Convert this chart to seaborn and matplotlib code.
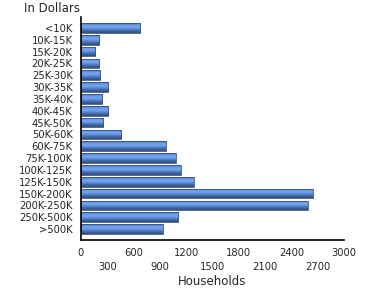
import numpy as np
import pandas as pd
import matplotlib
matplotlib.use("Agg")
import matplotlib.pyplot as plt
import seaborn as sns
from matplotlib.colors import LinearSegmentedColormap
from matplotlib.ticker import MultipleLocator, FixedLocator

categories = ["<10K", "10K-15K", "15K-20K", "20K-25K", "25K-30K", "30K-35K",
              "35K-40K", "40K-45K", "45K-50K", "50K-60K", "60K-75K", "75K-100K",
              "100K-125K", "125K-150K", "150K-200K", "200K-250K", "250K-500K", ">500K"]
households = [678, 206, 164, 210, 222, 313, 244, 313, 256, 461, 964, 1078,
              1135, 1284, 2642, 2585, 1112, 930]
x_title = "Households"
y_title = "In Dollars"

df = pd.DataFrame({"Income": categories, "Households": households})

sns.set_style("white")
plt.rcParams["font.family"] = ["DejaVu Sans"]

fig = plt.figure(figsize=(3.7, 3.0), dpi=100)
ax = fig.add_axes([81/370, 1 - 240/300, (344-81)/370, (240-17)/300])

sns.barplot(data=df, x="Households", y="Income", orient="h", ax=ax,
            color="#5b8ad8", width=0.82, edgecolor="#3e5478", linewidth=0.6)

cmap = LinearSegmentedColormap.from_list(
    "bar", ["#4b6b9c", "#6a9ce8", "#72a6f5", "#5a88d2", "#40649e", "#304f80"])
grad = np.linspace(0, 1, 64).reshape(-1, 1)
for p in ax.patches:
    x0, y0 = p.get_x(), p.get_y()
    w, h = p.get_width(), p.get_height()
    im = ax.imshow(grad, cmap=cmap, aspect="auto", origin="upper",
                   extent=[x0, x0 + w, y0 + h, y0], zorder=p.get_zorder() + 0.1,
                   interpolation="bilinear")
    im.set_clip_path(p)
    p.set_facecolor("none")
    p.set_zorder(p.get_zorder() + 0.2)

ax.set_xlim(0, 3000)
ax.set_ylim(17.93, -0.93)
ax.xaxis.set_major_locator(MultipleLocator(300))
xt = np.arange(0, 3001, 300)
ax.set_xticks(xt)
ax.set_xticklabels([f"{v}" if i % 2 == 0 else f"\n{v}" for i, v in enumerate(xt)],
                   fontsize=7.2, linespacing=1.45)
ax.tick_params(axis="x", length=4, width=1, direction="out", pad=2, color="black")
ax.tick_params(axis="y", length=4, width=1, direction="out", pad=2, labelsize=7.2, color="black")
ax.yaxis.set_minor_locator(FixedLocator([-0.93, 17.93]))
ax.tick_params(axis="y", which="minor", length=4, width=1, color="black")
ax.tick_params(axis="x", which="minor", length=0)

for s in ["top", "right"]:
    ax.spines[s].set_visible(False)
for s in ["left", "bottom"]:
    ax.spines[s].set_linewidth(1.2)
    ax.spines[s].set_color("black")

ax.set_xlabel(x_title, fontsize=8.5, labelpad=2)
ax.set_ylabel("")
fig.text(24/370, 1 - 8/300, y_title, fontsize=8.5, va="center", ha="left")

fig.savefig("out.png", dpi=100)
